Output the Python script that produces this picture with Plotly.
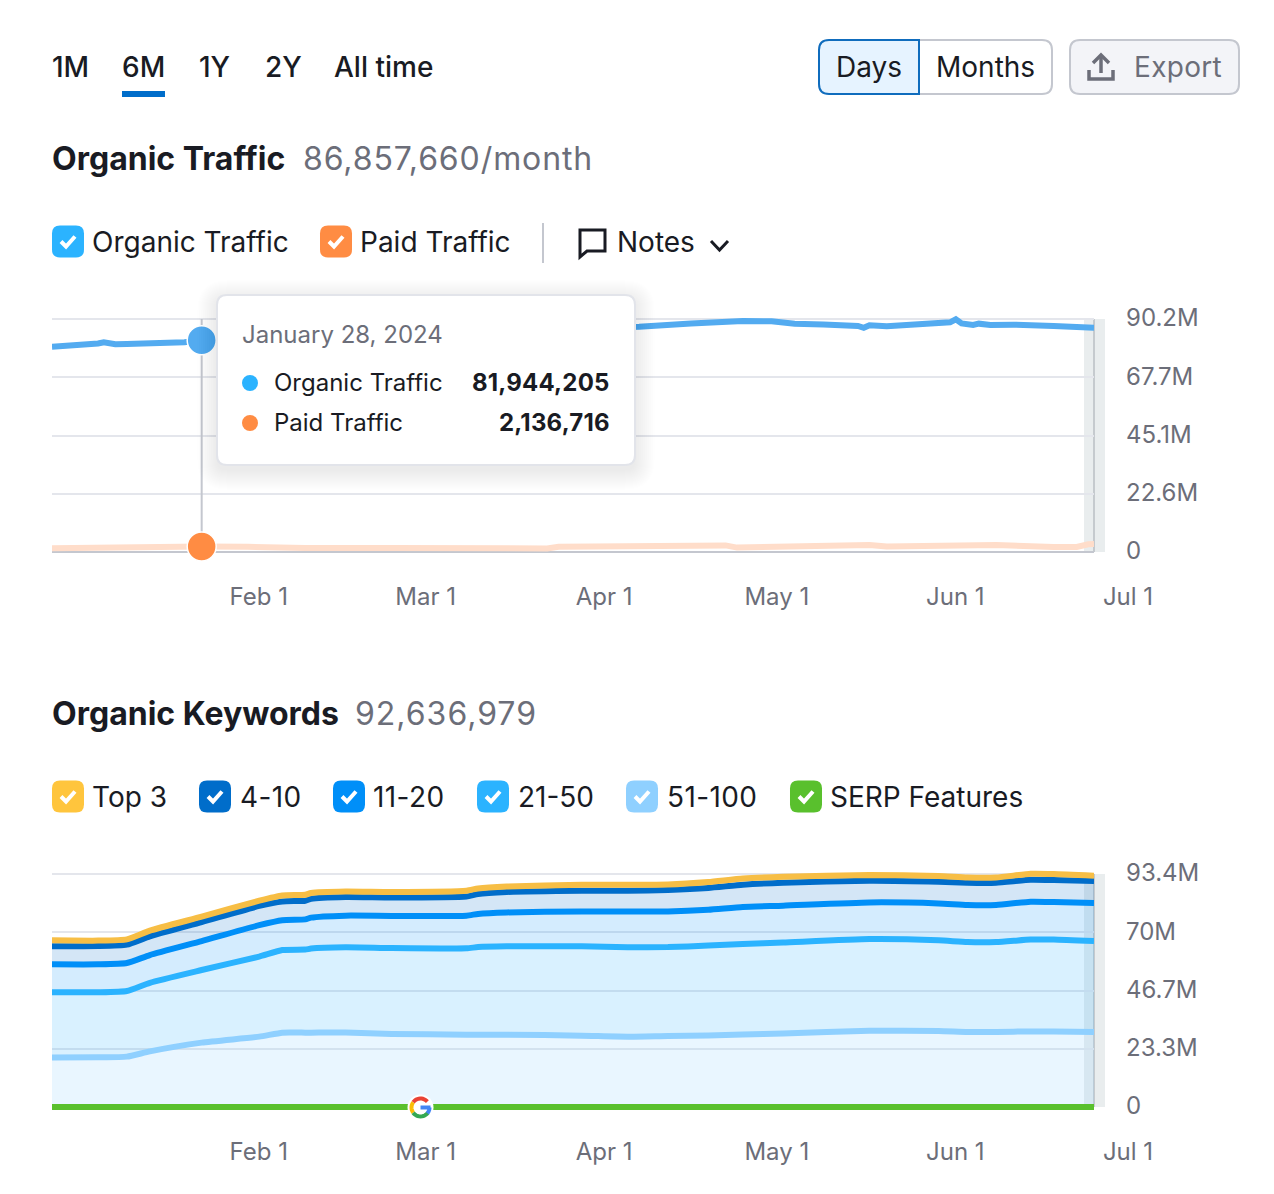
import math

import plotly.graph_objects as go

W, H = 1274, 1194
FONT = "Inter"
INK = "#191B23"
GRAY = "#6C6E79"
BORDER = "#C4C7CF"
GRID = "#E4E6EC"

# Organic Traffic chart, millions
organic_dates = ["2024-01-02", "2024-01-08", "2024-01-10", "2024-01-11", "2024-01-13", "2024-01-15", "2024-01-21",
                 "2024-01-25", "2024-01-28", "2024-02-05", "2024-02-15", "2024-03-01", "2024-03-20", "2024-04-01",
                 "2024-04-13", "2024-04-22", "2024-05-01", "2024-05-06", "2024-05-10", "2024-05-15", "2024-05-21",
                 "2024-05-22", "2024-05-23", "2024-05-26", "2024-05-29", "2024-06-04", "2024-06-05", "2024-06-06",
                 "2024-06-07", "2024-06-08", "2024-06-10", "2024-06-11", "2024-06-13", "2024-06-17", "2024-06-24",
                 "2024-06-29", "2024-07-01"]
organic_traffic = [79.5, 80.1, 80.7, 81.2, 80.4, 80.5, 80.7,
                   81.2, 81.944, 82.4, 84.0, 84.8, 85.5, 86.5,
                   87.2, 88.5, 89.4, 89.3, 88.4, 88.1, 87.5,
                   86.8, 87.8, 87.4, 87.8, 88.6, 89.2, 88.9,
                   90.1, 88.5, 87.9, 88.4, 87.9, 88.0, 87.5,
                   87.0, 86.858]

paid_dates = ["2024-01-02", "2024-01-11", "2024-01-15", "2024-01-17", "2024-01-28", "2024-02-05", "2024-02-10",
              "2024-02-15", "2024-03-01", "2024-03-15", "2024-03-28", "2024-03-30", "2024-04-20", "2024-04-23",
              "2024-04-26", "2024-04-28", "2024-04-30", "2024-05-08", "2024-05-23", "2024-05-26", "2024-06-14",
              "2024-06-24", "2024-06-28", "2024-06-30", "2024-07-01"]
paid_traffic = [1.45, 1.75, 2.2, 2.3, 2.137, 2.0, 1.75,
                1.55, 1.55, 1.45, 1.4, 2.05, 2.05, 2.1,
                2.6, 2.55, 1.7, 2.0, 2.7, 2.1, 2.7,
                1.95, 1.95, 3.0, 3.1]

hover_date = "2024-01-28"
hover_organic = 81.944
hover_paid = 2.137

# Organic Keywords chart, top edge of each stacked band, millions
kw_dates = ["2024-01-02", "2024-01-10", "2024-01-15", "2024-01-19", "2024-01-28", "2024-02-07", "2024-02-11",
            "2024-02-15", "2024-02-16", "2024-02-22", "2024-03-01", "2024-03-14", "2024-03-16", "2024-03-21",
            "2024-04-03", "2024-04-11", "2024-04-18", "2024-04-25", "2024-05-01", "2024-05-08", "2024-05-23",
            "2024-06-04", "2024-06-09", "2024-06-14", "2024-06-20", "2024-06-24", "2024-07-01"]
kw_top3 = [66.8, 66.7, 67.2, 70.7, 76.3, 82.7, 84.8, 85.1, 85.8, 86.4, 86.2, 86.7, 87.6, 88.4,
           89.1, 89.1, 89.2, 90.2, 91.6, 92.3, 93.0, 92.6, 92.0, 92.0, 93.5, 93.4, 92.7]
kw_4_10 = [64.4, 64.5, 65.1, 68.4, 74.1, 80.6, 82.4, 82.7, 83.5, 84.2, 84.0, 84.4, 85.4, 86.2,
           86.7, 86.7, 87.0, 87.8, 89.1, 89.9, 90.7, 90.3, 89.9, 89.9, 91.1, 91.0, 90.6]
kw_11_20 = [57.2, 57.2, 57.7, 60.9, 66.5, 72.9, 74.9, 75.2, 75.9, 76.7, 76.6, 76.7, 77.4, 78.0,
            78.4, 78.4, 78.4, 79.1, 80.2, 80.7, 82.0, 81.6, 81.0, 81.0, 82.3, 82.2, 81.8]
kw_21_50 = [46.0, 46.0, 46.5, 49.8, 54.9, 60.3, 62.9, 63.1, 63.5, 64.0, 63.7, 63.6, 64.1, 64.4,
            64.4, 64.0, 64.1, 64.7, 65.3, 65.9, 67.3, 66.8, 66.1, 66.1, 67.1, 67.1, 66.5]
kw_51_100 = [19.8, 19.9, 20.2, 22.3, 25.8, 28.2, 29.8, 29.8, 29.8, 29.9, 29.3, 29.0, 29.0, 29.0,
             28.6, 28.2, 28.5, 28.7, 29.1, 29.5, 30.6, 30.5, 30.1, 30.1, 30.3, 30.3, 30.1]
kw_serp = [0.05] * len(kw_dates)

# axis ticks
x_ticks = ["2024-02-01", "2024-03-01", "2024-04-01", "2024-05-01", "2024-06-01", "2024-07-01"]
x_labels = ["Feb 1", "Mar 1", "Apr 1", "May 1", "Jun 1", "Jul 1"]
traffic_ticks = [0, 22.55, 45.1, 67.65, 90.2]
traffic_labels = ["0", "22.6M", "45.1M", "67.7M", "90.2M"]
kw_ticks = [0, 23.35, 46.7, 70.05, 93.4]
kw_labels = ["0", "23.3M", "46.7M", "70M", "93.4M"]
x_range = ["2024-01-02", "2024-07-01"]

shapes = []
notes = []


def fx(x):
    return x / W


def fy(y):
    return 1 - y / H


def pts(*xy):
    return " L ".join(f"{fx(x):.5f},{fy(y):.5f}" for x, y in xy)


def round_rect(x0, y0, x1, y1, r, corners=(1, 1, 1, 1)):
    tl, tr, br, bl = [r * c for c in corners]
    p = f"M {pts((x0 + tl, y0), (x1 - tr, y0))}"
    p += f" Q {pts((x1, y0))} {pts((x1, y0 + tr))}"
    p += f" L {pts((x1, y1 - br))} Q {pts((x1, y1))} {pts((x1 - br, y1))}"
    p += f" L {pts((x0 + bl, y1))} Q {pts((x0, y1))} {pts((x0, y1 - bl))}"
    p += f" L {pts((x0, y0 + tl))} Q {pts((x0, y0))} {pts((x0 + tl, y0))} Z"
    return p


def add_box(x0, y0, x1, y1, r, fill, line=None, lw=2, corners=(1, 1, 1, 1), opacity=1, layer="above"):
    shapes.append(dict(type="path", xref="paper", yref="paper", layer=layer, opacity=opacity,
                       path=round_rect(x0, y0, x1, y1, r, corners), fillcolor=fill,
                       line=dict(color=line or fill, width=lw if line else 0)))


def add_stroke(points, color, lw=3, close=False):
    path = "M " + pts(*points) + (" Z" if close else "")
    shapes.append(dict(type="path", xref="paper", yref="paper", layer="above", path=path,
                       line=dict(color=color, width=lw)))


def label(x, y, text, size=28, color=INK, weight=400, anchor="left", spacing=0):
    if spacing:
        text = f'<span style="letter-spacing:{spacing}px">{text}</span>'
    notes.append(dict(xref="paper", yref="paper", x=fx(x), y=fy(y), text=text, showarrow=False,
                      xanchor=anchor, yanchor="middle", borderpad=0, borderwidth=0,
                      font=dict(family=FONT, size=size, color=color, weight=weight)))


def checkbox(x, y, color):
    add_box(x, y, x + 32, y + 32, 8, color)
    add_stroke([(x + 9, y + 16), (x + 14, y + 21), (x + 23, y + 11)], "white", 4)


# time range tabs
for tab_x, tab in zip([52, 122, 199, 265, 334], ["1M", "6M", "1Y", "2Y", "All time"]):
    label(tab_x, 67, tab, 28, INK, 500)
add_box(122, 91, 165, 97, 0, "#006DCA")

# days / months / export buttons
add_box(919, 40, 1052, 94, 10, "white", BORDER, 2, (0, 1, 1, 0))
add_box(819, 40, 919, 94, 10, "#E6F3FF", "#0F6CBD", 2, (1, 0, 0, 1))
add_box(1070, 40, 1239, 94, 10, "#F3F4F8", BORDER, 2)
label(836, 67, "Days", 28)
label(936, 67, "Months", 28)
label(1134, 67, "Export", 28, GRAY, spacing=0.3)
add_stroke([(1101, 73), (1101, 56)], GRAY, 3.5)
add_stroke([(1093, 63), (1101, 55), (1109, 63)], GRAY, 3.5)
add_stroke([(1089, 70), (1089, 79), (1113, 79), (1113, 70)], GRAY, 3.5)

# first chart heading and toggles
label(52, 159, "Organic Traffic", 32, INK, 700)
label(302.5, 159, "86,857,660/month", 32, GRAY, spacing=0.9)
checkbox(52, 225.5, "#2BB3FF")
label(92, 242.5, "Organic Traffic", 28)
checkbox(320, 225.5, "#FF8C43")
label(360, 242.5, "Paid Traffic", 28)
add_stroke([(543, 223), (543, 263)], BORDER, 2)
add_stroke([(580, 230), (605, 230), (605, 251), (587, 251), (580, 257)], INK, 3, close=True)
label(617, 242.5, "Notes", 28)
add_stroke([(711, 241), (719.5, 250), (728, 241)], INK, 3)

# second chart heading and toggles
label(52, 713.5, "Organic Keywords", 32, INK, 700)
label(354.5, 713.5, "92,636,979", 32, GRAY, spacing=1)
toggles = [(52, 92, "Top 3", "#FFC53D", 0), (199, 239.5, "4-10", "#006DCA", 0.4), (333, 373, "11-20", "#008FF8", 0.4),
           (477, 517.5, "21-50", "#2BB3FF", 0), (626, 666.5, "51-100", "#8FD0FF", 0.4),
           (790, 829.5, "SERP Features", "#59C02D", 0)]
for box_x, text_x, text, color, gap in toggles:
    checkbox(box_x, 780.5, color)
    label(text_x, 797, text, 28, spacing=gap)

# grey "incomplete data" band at the right edge of both plots
for top, bottom in [(319, 552), (874, 1107)]:
    shapes.append(dict(type="rect", xref="paper", yref="paper", layer="below", x0=fx(1084), x1=fx(1105),
                       y0=fy(bottom), y1=fy(top), fillcolor="#E9EDEE", line_width=0))
    shapes.append(dict(type="line", xref="paper", yref="paper", layer="below", x0=fx(1094), x1=fx(1094),
                       y0=fy(bottom), y1=fy(top), line=dict(color="#B9BEC3", width=1.5)))

# tooltip with a soft shadow
for k in range(1, 21):
    add_box(217 - k, 295 - k + 5, 635 + k, 465 + k + 5, 10 + k, "#1F2330", opacity=0.003)
add_box(217, 295, 635, 465, 10, "white", "#E2E4EA", 2)
label(242, 335, "January 28, 2024", 24, GRAY)
for row_y, dot, name, value in [(383, "#2BB3FF", "Organic Traffic", "81,944,205"),
                                (423, "#FF8C43", "Paid Traffic", "2,136,716")]:
    shapes.append(dict(type="circle", xref="paper", yref="paper", layer="above", x0=fx(242), x1=fx(258),
                       y0=fy(row_y + 8), y1=fy(row_y - 8), fillcolor=dot, line_width=0))
    label(274, row_y, name, 24)
    label(609.5, row_y, value, 24, INK, 700, anchor="right", spacing=0.2)

# google update marker on the SERP line
g_x, g_y, g_r = 420.5, 1107.5, 9


def g_arc(a0, a1, color):
    arc = [(g_x + g_r * math.cos(math.radians(a0 + (a1 - a0) * i / 12)),
            g_y + g_r * math.sin(math.radians(a0 + (a1 - a0) * i / 12))) for i in range(13)]
    add_stroke(arc, color, 4)


shapes.append(dict(type="circle", xref="paper", yref="paper", layer="above", x0=fx(g_x - 13), x1=fx(g_x + 13),
                   y0=fy(g_y + 13), y1=fy(g_y - 13), fillcolor="white", line_width=0))
g_arc(-145, -40, "#EA4335")
g_arc(145, 215, "#FBBC05")
g_arc(35, 145, "#34A853")
g_arc(0, 40, "#4285F4")
add_stroke([(g_x, g_y), (g_x + g_r + 1, g_y)], "#4285F4", 4)

fig = go.Figure()

# hover guide and the two traffic lines
fig.add_trace(go.Scatter(x=[hover_date, hover_date], y=[traffic_ticks[0], traffic_ticks[-1]], mode="lines",
                         line=dict(color=BORDER, width=2), xaxis="x", yaxis="y"))
fig.add_trace(go.Scatter(x=paid_dates, y=paid_traffic, mode="lines", line=dict(color="#FFDDCA", width=6),
                         xaxis="x", yaxis="y"))
fig.add_trace(go.Scatter(x=organic_dates, y=organic_traffic, mode="lines", line=dict(color="#53ABF0", width=6),
                         xaxis="x", yaxis="y"))
fig.add_trace(go.Scatter(x=[hover_date, hover_date], y=[hover_organic, hover_paid], mode="markers",
                         marker=dict(size=29, color=["#53ABF0", "#FF8C43"], line=dict(color="white", width=1.5)),
                         cliponaxis=False, xaxis="x", yaxis="y"))

# keyword bands, bottom to top
bands = [(kw_serp, "#59C02D", "rgba(0,0,0,0)"),
         (kw_51_100, "#8FD0FF", "rgba(143,208,255,0.2)"),
         (kw_21_50, "#2BB3FF", "rgba(43,179,255,0.18)"),
         (kw_11_20, "#008FF8", "rgba(0,143,248,0.17)"),
         (kw_4_10, "#006DCA", "rgba(0,109,202,0.17)"),
         (kw_top3, "#F7BE45", "rgba(255,197,61,0.18)")]
for i, (values, color, fill) in enumerate(bands):
    fig.add_trace(go.Scatter(x=kw_dates, y=values, mode="lines", line=dict(color=color, width=6, shape="spline", smoothing=0.5),
                             fill="tonexty" if i else None, fillcolor=fill, xaxis="x2", yaxis="y2"))
# keep the green baseline on top of the fills
fig.add_trace(go.Scatter(x=kw_dates, y=kw_serp, mode="lines", line=dict(color="#59C02D", width=6),
                         xaxis="x2", yaxis="y2"))

PAD = 10  # px kept around each plot so thick lines at the range ends are not clipped


def x_axis(anchor):
    return dict(type="date", domain=[fx(52), fx(1094)], range=x_range, anchor=anchor, tickmode="array",
                tickvals=x_ticks, ticktext=x_labels, ticks="", showgrid=False, zeroline=False, showline=False,
                ticklabelshift=34, ticklabelstandoff=18, automargin=False,
                tickfont=dict(family=FONT, size=24, color=GRAY))


def y_axis(anchor, top, bottom, ticks, labels):
    extra = ticks[-1] * PAD / (bottom - top)
    return dict(domain=[fy(bottom + PAD), fy(top - PAD)], range=[-extra, ticks[-1] + extra], anchor=anchor,
                side="right", tickmode="array", tickvals=ticks, ticktext=labels, ticks="", showgrid=True,
                gridcolor=GRID, gridwidth=2, zeroline=True, zerolinecolor=BORDER, zerolinewidth=2, showline=False,
                ticklabelstandoff=31, ticklabelshift=-1, automargin=False,
                tickfont=dict(family=FONT, size=24, color=GRAY))


fig.update_layout(
    width=W, height=H, margin=dict(l=0, r=0, t=0, b=0, autoexpand=False),
    paper_bgcolor="white", plot_bgcolor="rgba(0,0,0,0)",
    showlegend=False, hovermode=False, shapes=shapes, annotations=notes,
    xaxis=x_axis("y"), xaxis2=x_axis("y2"),
    yaxis=y_axis("x", 319, 552, traffic_ticks, traffic_labels),
    yaxis2=y_axis("x2", 874, 1107, kw_ticks, kw_labels),
)

fig.write_html("out.html", config={"displayModeBar": False},
               post_script="document.body.style.margin='0';document.body.style.overflow='hidden';")
